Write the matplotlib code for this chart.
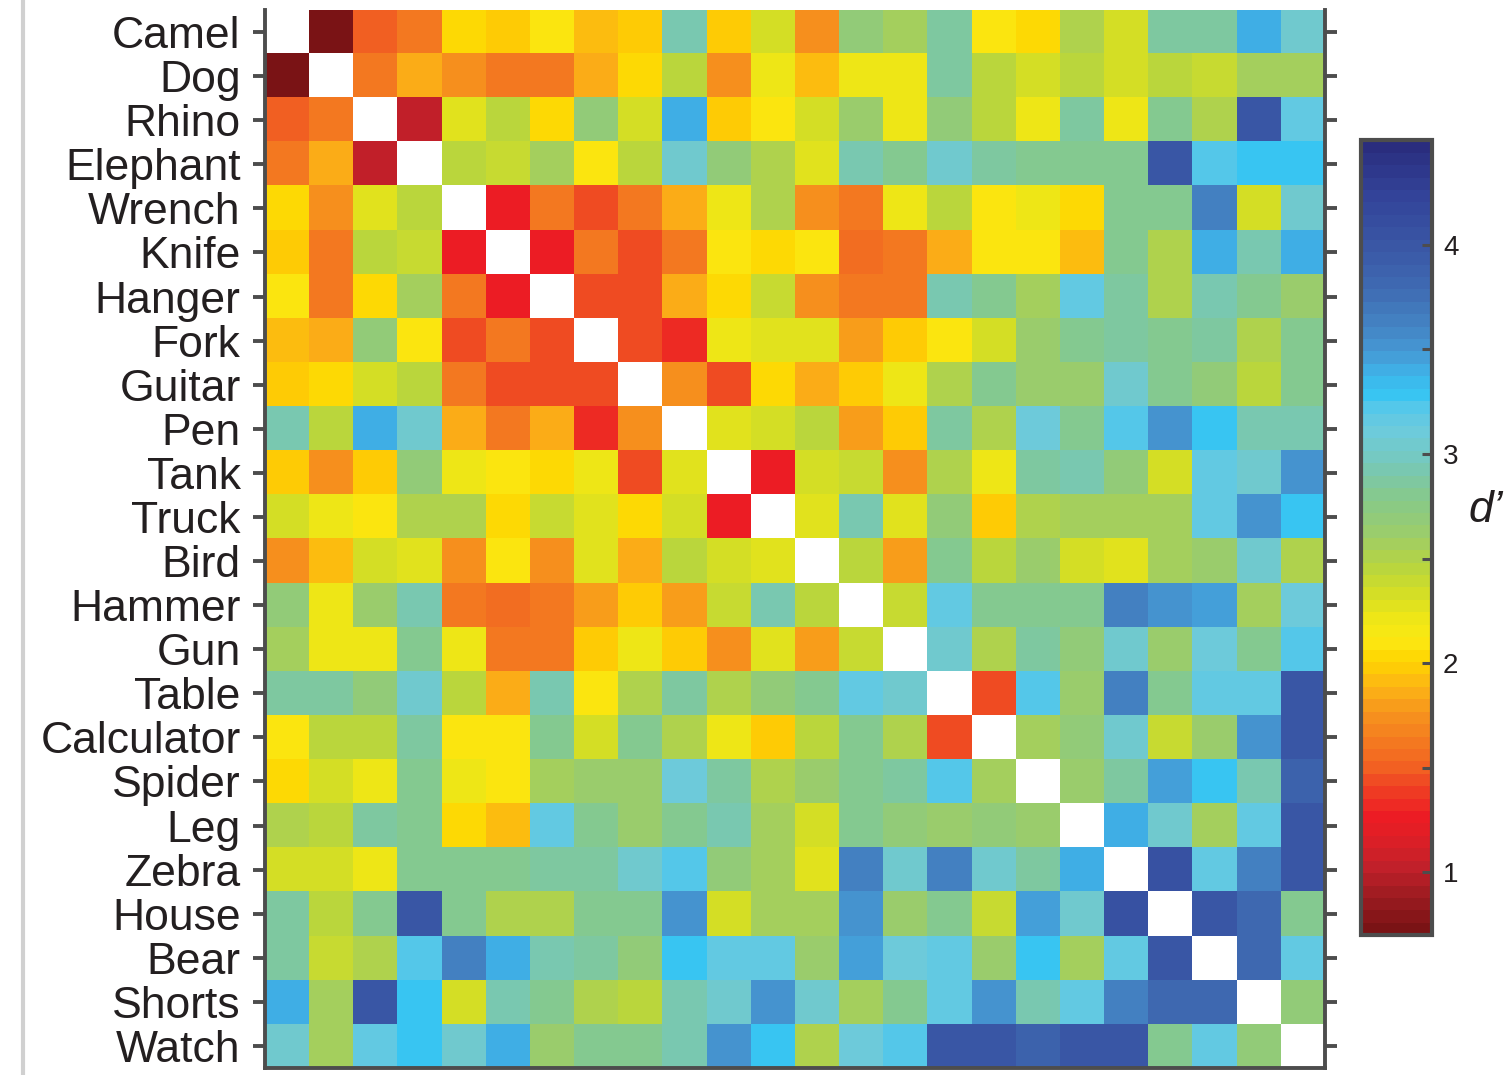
import matplotlib.pyplot as plt
import numpy as np
from matplotlib.colors import LinearSegmentedColormap
from matplotlib.lines import Line2D

plt.rcParams["font.family"] = ["Liberation Sans", "DejaVu Sans"]

labels = ["Camel", "Dog", "Rhino", "Elephant", "Wrench", "Knife", "Hanger", "Fork",
          "Guitar", "Pen", "Tank", "Truck", "Bird", "Hammer", "Gun", "Table",
          "Calculator", "Spider", "Leg", "Zebra", "House", "Bear", "Shorts", "Watch"]

# upper triangle of the symmetric d' matrix: row i holds columns i+1 .. 23
upper = [
    [0.75, 1.50, 1.60, 2.04, 1.98, 2.12, 1.92, 1.98, 2.95, 1.98, 2.33, 1.73, 2.70, 2.58, 2.88, 2.12, 2.04, 2.53, 2.33, 2.88, 2.88, 3.38, 3.03],
    [1.60, 1.85, 1.73, 1.62, 1.62, 1.85, 2.04, 2.45, 1.73, 2.20, 1.92, 2.20, 2.20, 2.88, 2.45, 2.33, 2.45, 2.33, 2.45, 2.40, 2.58, 2.58],
    [1.05, 2.27, 2.45, 2.04, 2.70, 2.33, 3.38, 1.98, 2.12, 2.33, 2.64, 2.20, 2.70, 2.45, 2.20, 2.88, 2.20, 2.83, 2.53, 3.97, 3.14],
    [2.45, 2.40, 2.58, 2.12, 2.45, 3.03, 2.70, 2.53, 2.27, 2.95, 2.78, 3.03, 2.88, 2.78, 2.83, 2.78, 3.97, 3.22, 3.30, 3.30],
    [1.25, 1.60, 1.42, 1.60, 1.85, 2.20, 2.53, 1.73, 1.62, 2.20, 2.45, 2.12, 2.20, 2.04, 2.78, 2.78, 3.62, 2.33, 3.03],
    [1.25, 1.62, 1.42, 1.62, 2.12, 2.04, 2.12, 1.55, 1.62, 1.85, 2.12, 2.12, 1.92, 2.78, 2.53, 3.38, 2.95, 3.38],
    [1.42, 1.42, 1.85, 2.04, 2.40, 1.73, 1.62, 1.62, 2.95, 2.83, 2.58, 3.14, 2.88, 2.53, 2.95, 2.83, 2.64],
    [1.42, 1.32, 2.20, 2.27, 2.27, 1.78, 1.98, 2.12, 2.33, 2.64, 2.78, 2.88, 2.83, 2.88, 2.53, 2.83],
    [1.73, 1.42, 2.04, 1.85, 1.98, 2.20, 2.53, 2.78, 2.64, 2.64, 3.03, 2.78, 2.70, 2.45, 2.78],
    [2.27, 2.33, 2.45, 1.78, 1.98, 2.88, 2.53, 3.10, 2.78, 3.22, 3.53, 3.30, 2.95, 2.95],
    [1.25, 2.33, 2.40, 1.73, 2.53, 2.20, 2.88, 2.95, 2.70, 2.33, 3.14, 3.03, 3.53],
    [2.27, 2.95, 2.27, 2.70, 1.98, 2.53, 2.58, 2.58, 2.58, 3.14, 3.53, 3.30],
    [2.45, 1.78, 2.83, 2.45, 2.64, 2.33, 2.27, 2.58, 2.64, 3.03, 2.53],
    [2.40, 3.14, 2.83, 2.83, 2.83, 3.62, 3.53, 3.45, 2.58, 3.10],
    [3.03, 2.53, 2.88, 2.70, 3.03, 2.64, 3.10, 2.78, 3.22],
    [1.42, 3.22, 2.64, 3.62, 2.78, 3.14, 3.14, 3.97],
    [2.58, 2.70, 3.03, 2.40, 2.64, 3.53, 3.97],
    [2.64, 2.88, 3.45, 3.30, 2.95, 3.85],
    [3.38, 3.05, 2.58, 3.14, 3.97],
    [4.05, 3.14, 3.62, 3.97],
    [4.00, 3.80, 2.78],
    [3.80, 3.14],
    [2.70],
]

n = len(labels)
dprime = np.full((n, n), np.nan)
for i, row in enumerate(upper):
    dprime[i, i + 1:] = row
    dprime[i + 1:, i] = row

# stepped jet-like map, red (low d') to navy (high d')
vmin, vmax = 0.7, 4.5
anchors = [
    (0.70, "#7a1315"), (0.85, "#9a1b20"), (1.00, "#c1202a"), (1.15, "#e01f26"),
    (1.25, "#ed1c24"), (1.40, "#ef4423"), (1.50, "#f26522"), (1.62, "#f47b20"),
    (1.75, "#f7941d"), (1.87, "#fcb316"), (2.00, "#ffd400"), (2.10, "#fbe812"),
    (2.20, "#f0e716"), (2.32, "#d6df24"), (2.45, "#bad63d"), (2.55, "#a8d058"),
    (2.65, "#97cc72"), (2.78, "#88ca88"), (2.90, "#7cc8a8"), (3.00, "#74c9c4"),
    (3.12, "#6dcbdc"), (3.22, "#5ac8e8"), (3.30, "#36c5f3"), (3.40, "#3fb2e8"),
    (3.50, "#4699d4"), (3.62, "#4485c5"), (3.80, "#3f6cb3"), (4.00, "#3a58a6"),
    (4.25, "#33449a"), (4.50, "#2a2d7e"),
]
cmap = LinearSegmentedColormap.from_list(
    "dprime", [((v - vmin) / (vmax - vmin), c) for v, c in anchors], N=64)
cmap.set_bad("white")

edge = "#4d4d4d"
fig = plt.figure(figsize=(15.11, 10.75), dpi=100)
ax = fig.add_axes([0.1754, 0.0065, 0.7015, 0.9842])
im = ax.imshow(dprime, cmap=cmap, vmin=vmin, vmax=vmax, aspect="auto",
               interpolation="nearest")

ax.set_yticks(range(n))
ax.set_yticklabels(labels, fontsize=32, color="#231f20")
ax.set_xticks([])
ax.tick_params(axis="y", left=True, right=True, labelright=False, direction="out",
               length=8.5, width=2.8, color=edge, pad=9)
for side in ["left", "right", "bottom"]:
    ax.spines[side].set_color(edge)
    ax.spines[side].set_linewidth(2.8)
ax.spines["top"].set_visible(False)

cax = fig.add_axes([0.9007, 0.130, 0.047, 0.7395])
cb = fig.colorbar(im, cax=cax)
cb.set_ticks([1, 1.5, 2, 2.5, 3, 3.5, 4])
cb.set_ticklabels(["1", "", "2", "", "3", "", "4"])
cax.tick_params(direction="in", length=7, width=2.2, color=edge, labelsize=20,
                pad=8, labelcolor="#231f20")
cb.outline.set_edgecolor(edge)
cb.outline.set_linewidth(3)
fig.text(0.983, 0.525, "d\u2019", fontsize=32, style="italic", ha="center",
         va="center", color="#231f20")

# page edge shading seen at the far left
fig.add_artist(Line2D([0.0155, 0.0155], [0, 1], transform=fig.transFigure,
                      color="#d0d0d0", lw=3))

fig.savefig("out.png", dpi=100)
